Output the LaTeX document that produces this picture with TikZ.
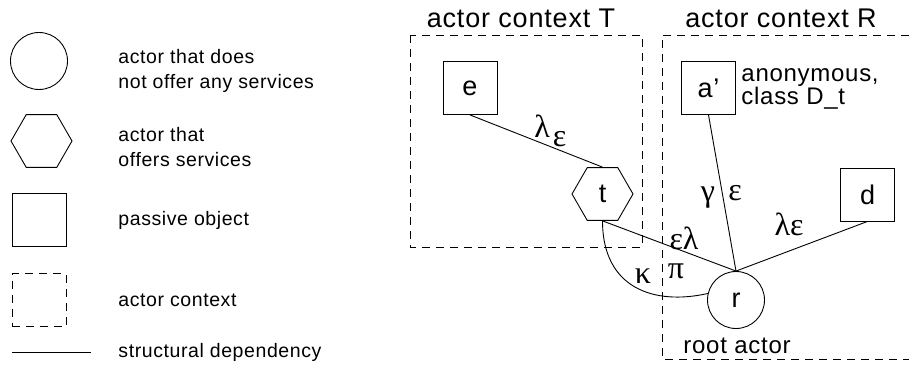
\documentclass[tikz,border=0pt]{standalone}
\usepackage{fontspec}
\setmainfont{Liberation Sans}[LetterSpace=3]
\newfontfamily\greekfam{Liberation Serif}
\usetikzlibrary{shapes.geometric}
\begin{document}
\begin{tikzpicture}[x=1pt,y=-1pt,line width=0.9pt]
        \tikzstyle{obj}=[draw, minimum width=54pt, minimum height=53pt, inner sep=0pt, font=\fontsize{27}{27}\selectfont]
        \tikzstyle{actor}=[draw, circle, minimum size=57pt, inner sep=0pt, font=\fontsize{27}{27}\selectfont]
        \tikzstyle{server}=[draw, regular polygon, regular polygon sides=6, minimum size=61pt, inner sep=0pt, font=\fontsize{27}{27}\selectfont]
        \tikzstyle{context}=[draw, dash pattern=on 8pt off 6pt]
        \tikzstyle{legend}=[inner sep=0pt, align=left, font=\fontsize{19.5}{25}\selectfont]
        \tikzstyle{title}=[inner sep=0pt, font=\fontsize{27}{27}\selectfont]
        \tikzstyle{note}=[inner sep=0pt, align=left, font=\fontsize{24}{22}\selectfont]
        \tikzstyle{greek}=[inner sep=0pt, font=\fontsize{32}{32}\greekfam]
            \useasboundingbox (0,0) rectangle (909,366);
            % legend
            \node[actor] (lactor) at (39,61) {};
            \node[server] (lserver) at (41.5,141) {};
            \node[obj] (lobj) at (39,220) {};
            \node[obj, draw=none, context] (lcontext) at (39,300) {};
            \coordinate (ldepa) at (12,352);
            \coordinate (ldepb) at (91,352);
            \draw (ldepa) -- (ldepb);
            \node[legend, anchor=north west] at (118,49) {actor that does\\not offer any services};
            \node[legend, anchor=north west] at (118,127) {actor that\\offers services};
            \node[legend, anchor=base west] at (118,225) {passive object};
            \node[legend, anchor=base west] at (118,306) {actor context};
            \node[legend, anchor=base west] at (118,357) {structural dependency};
            % contexts
            \draw[context] (410,35) rectangle (642,247);
            \draw[context] (909,35) -- (662,35) -- (662,359) -- (909,359);
            \node[title, anchor=base] at (521,28) {actor context T};
            \node[title, anchor=base] at (781,28) {actor context R};
            % objects and actors
            \node[obj] (e) at (470,88) {e};
            \node[server] (t) at (602.5,194) {t};
            \node[obj] (ap) at (708.5,88) {a'};
            \node[obj] (d) at (867.5,194.5) {d};
            \node[actor] (r) at (736,300) {r};
            \node[note, anchor=west] at (741,89) {anonymous,\\class D\_t};
            \node[note, anchor=base west] at (683,353) {root actor};
            % dependencies
            \draw (e.south) -- (t.north);
            \draw (t.south) -- (r.north);
            \draw (ap.south) -- (r.north);
            \draw (d.south) -- (r.north);
            \draw (t.south) .. controls +(0,68) and +(-53,12) .. (r.167);
            \node[greek, anchor=base west] at (534,138) {λ\kern3pt\raisebox{-9pt}{ε}};
            \node[greek, anchor=base] at (708,201) {γ};
            \node[greek, anchor=base] at (735,200) {ε};
            \node[greek, anchor=base] at (684,249) {ελ};
            \node[greek, anchor=base] at (676,278) {π};
            \node[greek, anchor=base] at (643,283) {κ};
            \node[greek, anchor=base] at (789,235) {λε};
        \end{tikzpicture}
\end{document}
